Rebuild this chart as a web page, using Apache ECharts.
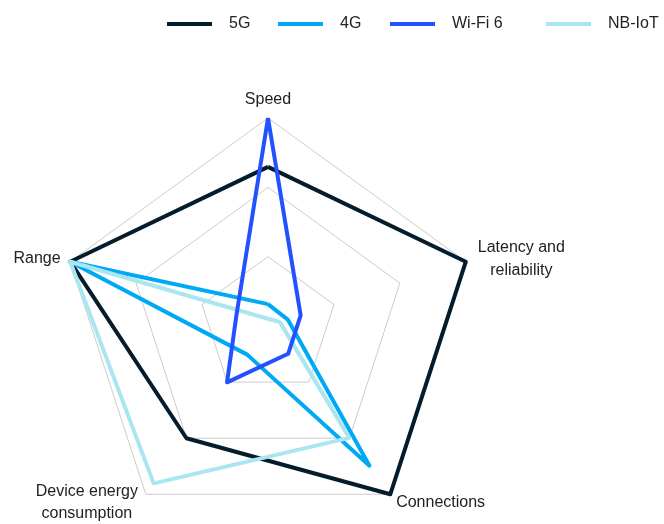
<!DOCTYPE html>
<html>
<head>
<meta charset="utf-8">
<script src="https://cdn.jsdelivr.net/npm/echarts@6/dist/echarts.min.js"></script>
<style>
html,body{margin:0;padding:0;background:#fff;}
#chart{width:664px;height:524px;}
</style>
</head>
<body>
<div id="chart"></div>
<script>
// Indicators (clockwise from top, as in the picture)
const indicators = ['Speed', 'Latency and reliability', 'Connections', 'Device energy consumption', 'Range'];
// Values in the same order as indicators (0..1)
const values5G    = [0.765, 1.0, 1.0, 0.667, 1.0];
const values4G    = [0.105, 0.10, 0.83, 0.17, 1.0];
const valuesWiFi6 = [1.0, 0.165, 0.165, 0.335, 0.16];
const valuesNBIoT = [0.035, 0.06, 0.665, 0.935, 1.0];
const seriesNames = ['5G', '4G', 'Wi-Fi 6', 'NB-IoT'];
const seriesColors = ['#051c2c', '#00a9f4', '#2251ff', '#aae6f0'];

// ECharts places indicators counterclockwise; reorder: Speed, Range, Device, Connections, Latency
const order = [0, 4, 3, 2, 1];
const reorder = arr => order.map(i => arr[i]);

const allValues = [values5G, values4G, valuesWiFi6, valuesNBIoT];
const drawOrder = [0, 1, 3, 2]; // Wi-Fi 6 drawn on top

const chart = echarts.init(document.getElementById('chart'), null, {renderer: 'canvas'});
const fontFamily = '"Liberation Sans", Arial, Helvetica, sans-serif';

const legendLefts = [167, 278, 390, 546];
const legends = seriesNames.map((n, i) => ({
  data: [n],
  left: legendLefts[i],
  top: 16,
  padding: 0,
  icon: 'rect',
  itemWidth: 45,
  itemHeight: 4,
  selectedMode: false,
  textStyle: {fontFamily, fontSize: 16, color: '#222', padding: [0, 0, 0, 12]}
}));

const option = {
  animation: false,
  legend: legends,
  radar: {
    center: [268, 326],
    radius: 208,
    startAngle: 90,
    splitNumber: 3,
    shape: 'polygon',
    axisNameGap: 10,
    indicator: reorder(indicators).map(n => ({name: n, min: 0, max: 1})),
    axisName: {
      color: '#222',
      fontFamily,
      fontSize: 16,
      formatter: function (name) {
        if (name === 'Latency and reliability') return '{lat|Latency and}\n{lat|reliability}';
        if (name === 'Device energy consumption') return '{dev|Device energy}\n{dev|consumption}';
        return name;
      },
      rich: {
        lat: {width: 92, align: 'center', fontSize: 16, fontFamily, color: '#222', lineHeight: 23},
        dev: {width: 106, align: 'center', fontSize: 16, fontFamily, color: '#222', lineHeight: 22}
      }
    },
    axisLine: {show: false},
    axisTick: {show: false},
    axisLabel: {show: false},
    splitArea: {show: false},
    splitLine: {lineStyle: {color: '#cccccc', width: 1}}
  },
  series: drawOrder.map(i => ({
    type: 'radar',
    name: seriesNames[i],
    symbol: 'none',
    color: seriesColors[i],
    lineStyle: {width: 4, color: seriesColors[i]},
    data: [{name: seriesNames[i], value: reorder(allValues[i])}]
  }))
};
chart.setOption(option);
</script>
</body>
</html>
